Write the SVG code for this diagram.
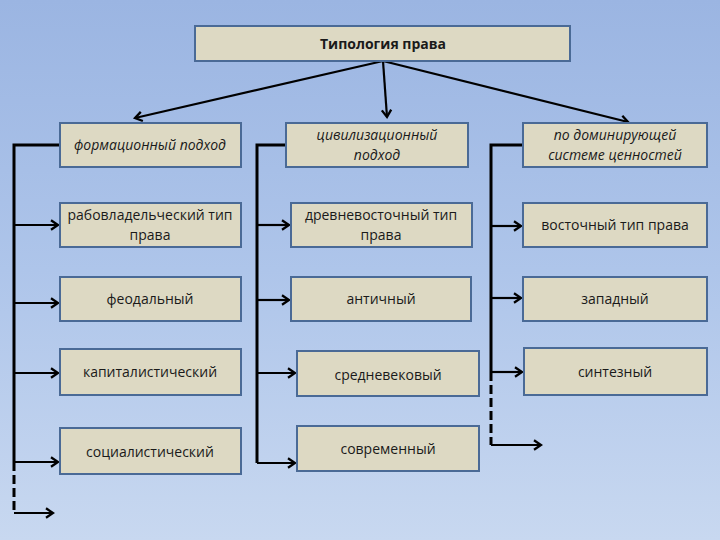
<svg xmlns="http://www.w3.org/2000/svg" width="720" height="540" viewBox="0 0 720 540">
<defs>
<linearGradient id="bg" x1="0" y1="0" x2="0" y2="1">
<stop offset="0" stop-color="#9bb5e2"/>
<stop offset="0.5" stop-color="#aec5ea"/>
<stop offset="1" stop-color="#c8d8f0"/>
</linearGradient>
<marker id="ah" markerUnits="userSpaceOnUse" markerWidth="14" markerHeight="14" refX="10" refY="6" orient="auto" viewBox="0 0 12 12">
<path d="M4,2 L10,6 L4,10" fill="none" stroke="#000" stroke-width="2"/>
</marker>
<style>
.box{fill:#ddd9c3;stroke:#4a6a96;stroke-width:2}
.t{font-family:"Open Sans","Liberation Sans",Arial,sans-serif;font-size:14px;font-weight:400;fill:#1a1a1a;text-anchor:middle}
.i{font-style:italic}
.b{font-weight:bold}
.br{fill:none;stroke:#000;stroke-width:3}
.ar{fill:none;stroke:#000;stroke-width:2.2;marker-end:url(#ah)}
.ds{fill:none;stroke:#000;stroke-width:3;stroke-dasharray:9,4}
</style>
</defs>
<rect width="720" height="540" fill="url(#bg)"/>
<g id="connectors">
<path class="ar" d="M383,61 L135,118"/>
<path class="ar" d="M383,61 L387,117"/>
<path class="ar" d="M383,61 L628,122"/>
<path class="br" d="M60,145 H14 V462"/>
<path class="ar" d="M14,225 H58"/>
<path class="ar" d="M14,303 H58"/>
<path class="ar" d="M14,373 H58"/>
<path class="ar" d="M14,462 H58"/>
<path class="ds" d="M14,462 V513"/>
<path class="ar" d="M14,513 H53"/>
<path class="br" d="M286,145 H257 V463"/>
<path class="ar" d="M257,225 H289"/>
<path class="ar" d="M257,300 H289"/>
<path class="ar" d="M257,373 H295"/>
<path class="ar" d="M257,463 H295"/>
<path class="br" d="M523,145 H491 V372"/>
<path class="ar" d="M491,226 H521"/>
<path class="ar" d="M491,298 H521"/>
<path class="ar" d="M491,372 H522"/>
<path class="ds" d="M491,372 V445"/>
<path class="ar" d="M491,445 H541"/>
</g>
<g id="title"><rect class="box" x="195" y="26" width="375" height="35"/><text class="t b" x="383" y="48.5">Типология права</text></g>
<g id="formation"><rect class="box" x="60" y="123" width="181" height="44"/><text class="t i" x="150" y="150">формационный подход</text></g>
<g id="slave"><rect class="box" x="60" y="203" width="181" height="44"/><text class="t" x="150" y="220">рабовладельческий тип</text><text class="t" x="150" y="240">права</text></g>
<g id="feudal"><rect class="box" x="60" y="277" width="181" height="44"/><text class="t" x="150" y="304">феодальный</text></g>
<g id="capital"><rect class="box" x="60" y="349" width="181" height="46"/><text class="t" x="150" y="377">капиталистический</text></g>
<g id="social"><rect class="box" x="60" y="428" width="181" height="46"/><text class="t" x="150" y="457">социалистический</text></g>
<g id="civil"><rect class="box" x="286" y="123" width="182" height="44"/><text class="t i" x="377" y="140">цивилизационный</text><text class="t i" x="377" y="160">подход</text></g>
<g id="ancienteast"><rect class="box" x="291" y="203" width="181" height="44"/><text class="t" x="381" y="220">древневосточный тип</text><text class="t" x="381" y="240">права</text></g>
<g id="antique"><rect class="box" x="291" y="277" width="180" height="44"/><text class="t" x="381" y="304">античный</text></g>
<g id="medieval"><rect class="box" x="297" y="351" width="182" height="45"/><text class="t" x="388" y="380">средневековый</text></g>
<g id="modern"><rect class="box" x="297" y="426" width="182" height="45"/><text class="t" x="388" y="454">современный</text></g>
<g id="values"><rect class="box" x="523" y="123" width="184" height="44"/><text class="t i" x="615" y="140">по доминирующей</text><text class="t i" x="615" y="160">системе ценностей</text></g>
<g id="eastern"><rect class="box" x="523" y="203" width="184" height="44"/><text class="t" x="615" y="230">восточный тип права</text></g>
<g id="western"><rect class="box" x="523" y="277" width="184" height="44"/><text class="t" x="615" y="304">западный</text></g>
<g id="synth"><rect class="box" x="524" y="348" width="183" height="47"/><text class="t" x="615" y="377">синтезный</text></g>
</svg>
